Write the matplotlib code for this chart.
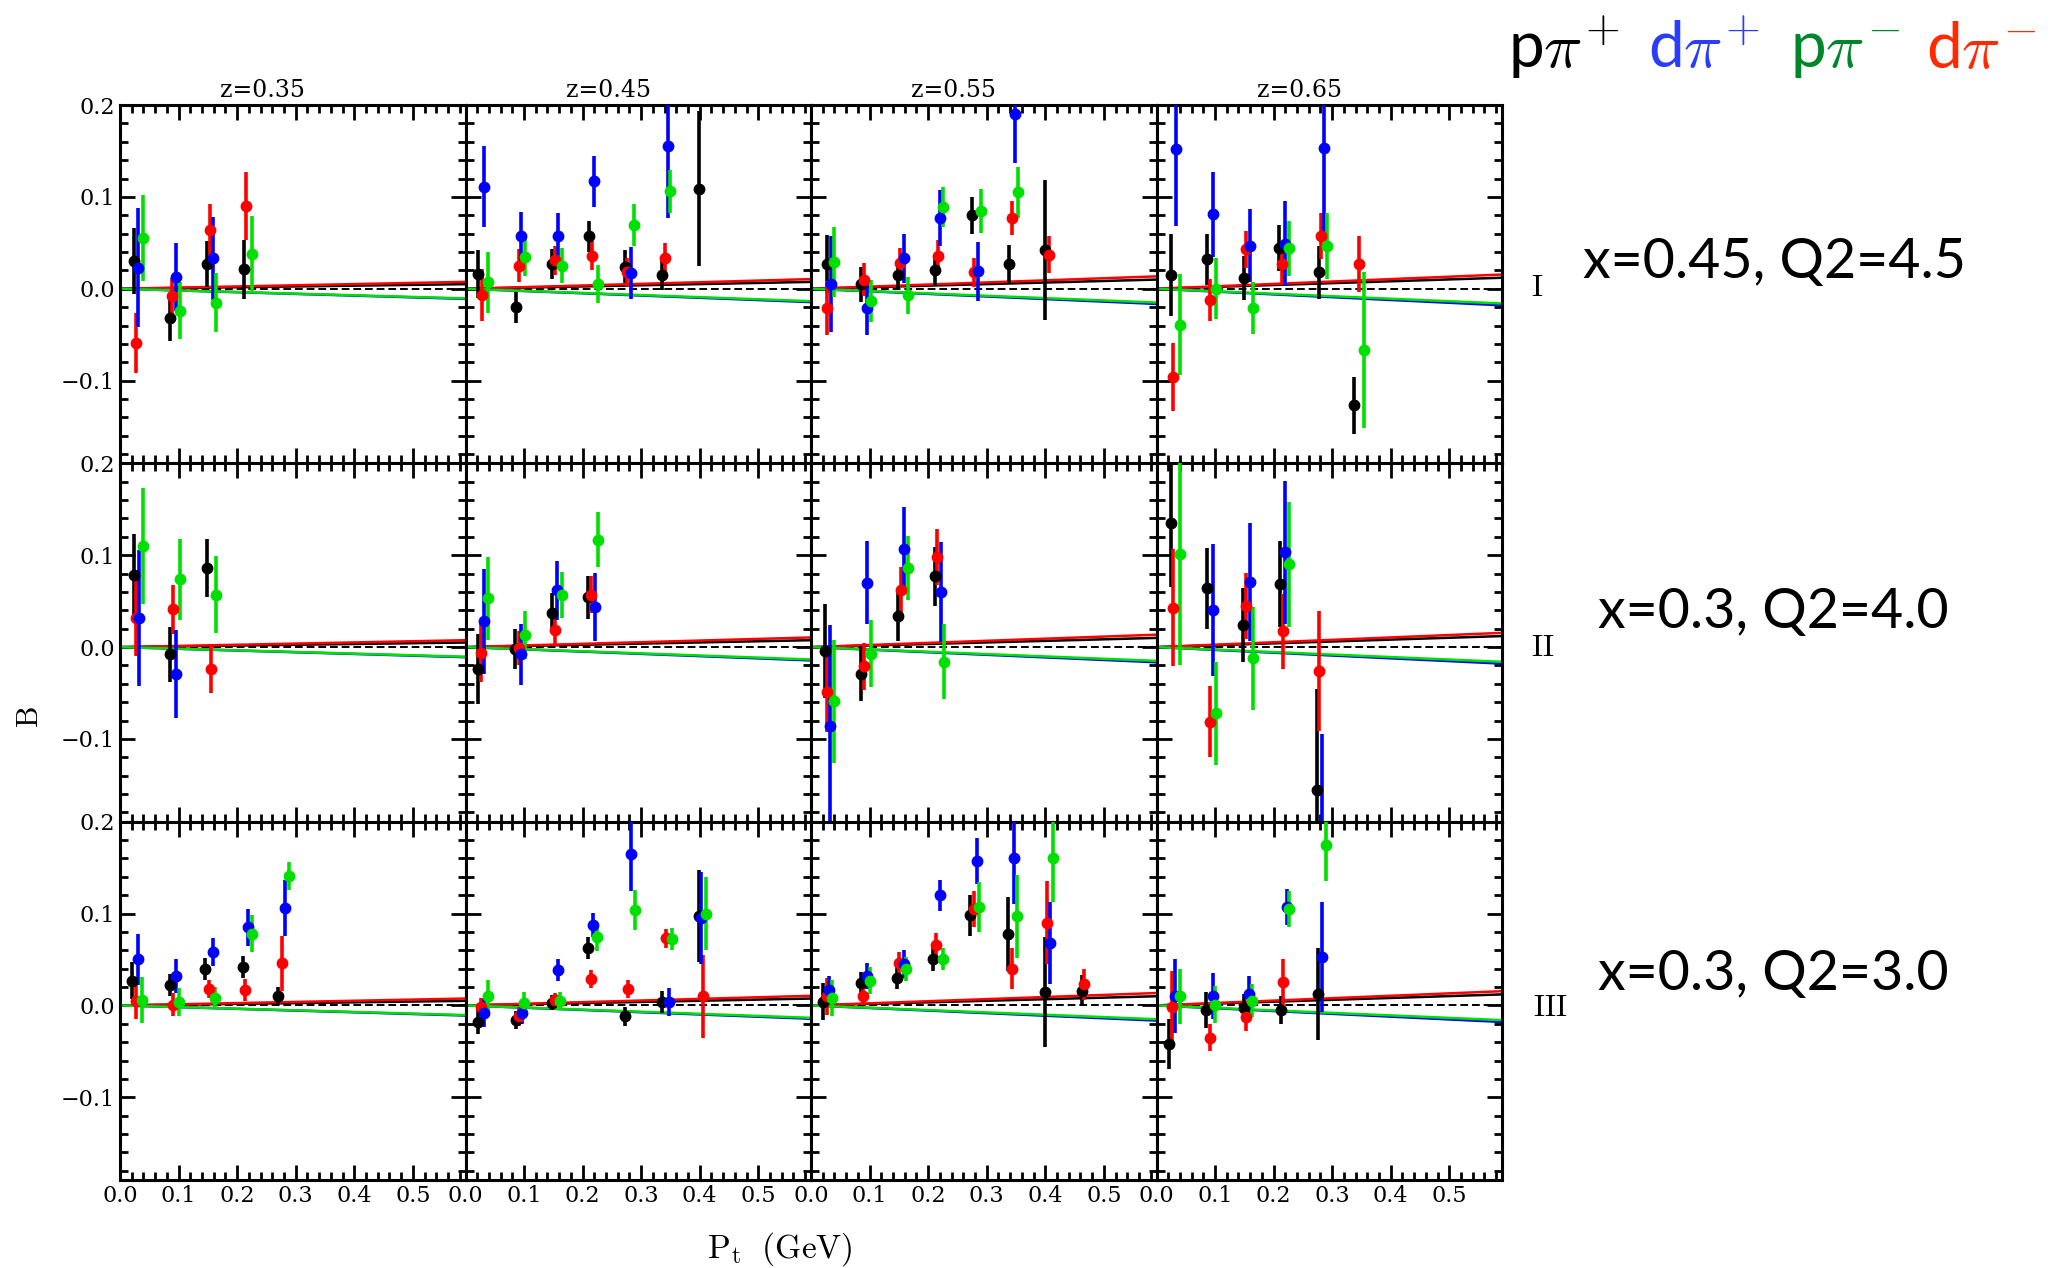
import numpy as np
import matplotlib
matplotlib.use("Agg")
import matplotlib.pyplot as plt
from matplotlib.ticker import MultipleLocator

# channels: k = p pi+, b = d pi+, g = p pi-, r = d pi-
colors = {"k": "#000000", "b": "#0000ff", "g": "#00e000", "r": "#ff0000"}

z_titles = ["z=0.35", "z=0.45", "z=0.55", "z=0.65"]
row_names = ["I", "II", "III"]
row_kin = ["x=0.45, Q2=4.5", "x=0.3, Q2=4.0", "x=0.3, Q2=3.0"]

# ---- row I (x=0.45, Q2=4.5)
p11_pt = [0.024, 0.031, 0.039, 0.028, 0.086, 0.089, 0.095, 0.102, 0.149, 0.153, 0.159, 0.164, 0.211, 0.216, 0.226]
p11_b = [0.030, 0.023, 0.055, -0.059, -0.032, -0.008, 0.013, -0.024, 0.027, 0.064, 0.033, -0.015, 0.021, 0.090, 0.038]
p11_e = [0.036, 0.065, 0.047, 0.033, 0.025, 0.020, 0.037, 0.031, 0.025, 0.028, 0.045, 0.032, 0.032, 0.037, 0.041]
p11_ch = "kbgr" "krbg" "krbg" "krg"

p12_pt = [0.021, 0.028, 0.032, 0.039, 0.087, 0.091, 0.095, 0.102, 0.148, 0.152, 0.158, 0.164, 0.211, 0.216, 0.220, 0.226,
          0.272, 0.276, 0.283, 0.288, 0.336, 0.341, 0.346, 0.350, 0.398]
p12_b = [0.016, -0.007, 0.111, 0.007, -0.020, 0.025, 0.057, 0.035, 0.027, 0.031, 0.057, 0.025, 0.057, 0.036, 0.117, 0.005,
         0.024, 0.018, 0.017, 0.069, 0.015, 0.033, 0.155, 0.106, 0.109]
p12_e = [0.026, 0.028, 0.044, 0.033, 0.017, 0.018, 0.027, 0.021, 0.016, 0.016, 0.025, 0.019, 0.017, 0.016, 0.028, 0.021,
         0.018, 0.015, 0.028, 0.023, 0.016, 0.017, 0.078, 0.023, 0.084]
p12_ch = "krbg" * 6 + "k"

p13_pt = [0.027, 0.028, 0.034, 0.040, 0.085, 0.091, 0.096, 0.102, 0.148, 0.152, 0.159, 0.165, 0.211, 0.217, 0.220, 0.225,
          0.275, 0.278, 0.285, 0.291, 0.338, 0.343, 0.349, 0.354, 0.399, 0.406]
p13_b = [0.027, -0.021, 0.005, 0.029, 0.005, 0.010, -0.021, -0.013, 0.015, 0.028, 0.033, -0.007, 0.020, 0.036, 0.077, 0.089,
         0.080, 0.018, 0.019, 0.085, 0.027, 0.077, 0.190, 0.105, 0.042, 0.037]
p13_e = [0.032, 0.029, 0.052, 0.038, 0.019, 0.018, 0.029, 0.023, 0.014, 0.016, 0.027, 0.020, 0.017, 0.017, 0.030, 0.022,
         0.020, 0.016, 0.032, 0.024, 0.021, 0.018, 0.053, 0.028, 0.076, 0.020]
p13_ch = "krbg" * 6 + "kr"

p14_pt = [0.024, 0.028, 0.034, 0.040, 0.086, 0.092, 0.097, 0.102, 0.149, 0.153, 0.159, 0.165, 0.210, 0.214, 0.220, 0.227,
          0.277, 0.281, 0.286, 0.292, 0.338, 0.345, 0.354]
p14_b = [0.015, -0.096, 0.152, -0.039, 0.032, -0.012, 0.081, 0.000, 0.012, 0.043, 0.047, -0.021, 0.044, 0.027, 0.049, 0.044,
         0.018, 0.057, 0.153, 0.047, -0.127, 0.027, -0.067]
p14_e = [0.045, 0.037, 0.084, 0.055, 0.028, 0.023, 0.046, 0.033, 0.024, 0.020, 0.040, 0.028, 0.025, 0.021, 0.046, 0.030,
         0.029, 0.025, 0.092, 0.036, 0.031, 0.030, 0.085]
p14_ch = "krbg" * 5 + "krg"

# ---- row II (x=0.3, Q2=4.0)
p21_pt = [0.024, 0.027, 0.033, 0.039, 0.086, 0.091, 0.095, 0.102, 0.149, 0.155, 0.164]
p21_b = [0.078, 0.032, 0.032, 0.110, -0.008, 0.041, -0.029, 0.074, 0.086, -0.024, 0.057]
p21_e = [0.045, 0.042, 0.074, 0.063, 0.030, 0.027, 0.048, 0.044, 0.032, 0.026, 0.042]
p21_ch = "krbg" "krbg" "krg"

p22_pt = [0.021, 0.026, 0.031, 0.039, 0.085, 0.091, 0.095, 0.102, 0.148, 0.153, 0.157, 0.164, 0.209, 0.214, 0.221, 0.226]
p22_b = [-0.024, -0.006, 0.028, 0.053, -0.002, -0.001, -0.008, 0.013, 0.037, 0.019, 0.062, 0.057, 0.054, 0.057, 0.044, 0.117]
p22_e = [0.038, 0.032, 0.057, 0.045, 0.022, 0.019, 0.033, 0.026, 0.022, 0.018, 0.032, 0.025, 0.023, 0.020, 0.037, 0.030]
p22_ch = "krbg" * 4

p23_pt = [0.024, 0.028, 0.032, 0.040, 0.085, 0.091, 0.096, 0.103, 0.149, 0.154, 0.158, 0.165, 0.211, 0.215, 0.222, 0.227]
p23_b = [-0.004, -0.049, -0.086, -0.059, -0.029, -0.021, 0.070, -0.007, 0.034, 0.062, 0.107, 0.086, 0.077, 0.098, 0.060, -0.016]
p23_e = [0.051, 0.043, 0.110, 0.067, 0.030, 0.026, 0.045, 0.036, 0.027, 0.025, 0.046, 0.035, 0.032, 0.030, 0.054, 0.041]
p23_ch = "krbg" * 4

p24_pt = [0.024, 0.028, 0.040, 0.086, 0.091, 0.097, 0.102, 0.148, 0.153, 0.159, 0.165, 0.211, 0.216, 0.220, 0.226,
          0.274, 0.278, 0.283]
p24_b = [0.135, 0.043, 0.101, 0.064, -0.081, 0.040, -0.072, 0.024, 0.045, 0.071, -0.012, 0.069, 0.017, 0.103, 0.090,
         -0.156, -0.026, -0.205]
p24_e = [0.070, 0.064, 0.120, 0.044, 0.039, 0.072, 0.056, 0.040, 0.036, 0.064, 0.056, 0.047, 0.041, 0.078, 0.068,
         0.110, 0.065, 0.110]
p24_ch = "krg" + "krbg" * 3 + "krb"

# ---- row III (x=0.3, Q2=3.0)
p31_pt = [0.020, 0.027, 0.031, 0.038, 0.085, 0.091, 0.095, 0.100, 0.145, 0.152, 0.158, 0.162, 0.210, 0.213, 0.218, 0.225,
          0.270, 0.277, 0.281, 0.288]
p31_b = [0.027, 0.005, 0.050, 0.006, 0.022, 0.001, 0.032, 0.004, 0.040, 0.018, 0.058, 0.008, 0.042, 0.017, 0.085, 0.078,
         0.010, 0.046, 0.106, 0.141]
p31_e = [0.020, 0.020, 0.028, 0.025, 0.012, 0.012, 0.018, 0.015, 0.012, 0.010, 0.015, 0.012, 0.012, 0.012, 0.020, 0.020,
         0.010, 0.030, 0.030, 0.015]
p31_ch = "krbg" * 5

p32_pt = [0.022, 0.027, 0.031, 0.038, 0.087, 0.091, 0.096, 0.100, 0.147, 0.152, 0.158, 0.162, 0.209, 0.214, 0.218, 0.225,
          0.272, 0.278, 0.283, 0.290, 0.336, 0.343, 0.347, 0.352, 0.399, 0.402, 0.405, 0.410]
p32_b = [-0.018, -0.002, -0.008, 0.010, -0.016, -0.012, -0.008, 0.003, 0.003, 0.006, 0.039, 0.005, 0.063, 0.029, 0.088, 0.074,
         -0.012, 0.018, 0.165, 0.104, 0.004, 0.073, 0.004, 0.072, 0.097, 0.095, 0.010, 0.100]
p32_e = [0.013, 0.010, 0.015, 0.018, 0.010, 0.010, 0.012, 0.012, 0.008, 0.008, 0.012, 0.010, 0.012, 0.010, 0.013, 0.015,
         0.010, 0.010, 0.040, 0.022, 0.012, 0.010, 0.015, 0.012, 0.050, 0.050, 0.045, 0.040]
p32_ch = "krbg" * 6 + "kbrg"

p33_pt = [0.020, 0.027, 0.031, 0.036, 0.085, 0.089, 0.096, 0.100, 0.147, 0.151, 0.158, 0.163, 0.209, 0.214, 0.220, 0.225,
          0.272, 0.278, 0.283, 0.287, 0.336, 0.343, 0.347, 0.352, 0.400, 0.403, 0.408, 0.414, 0.463, 0.467]
p33_b = [0.004, 0.010, 0.017, 0.008, 0.024, 0.010, 0.032, 0.027, 0.030, 0.046, 0.045, 0.040, 0.050, 0.066, 0.120, 0.051,
         0.098, 0.105, 0.157, 0.107, 0.078, 0.040, 0.160, 0.097, 0.015, 0.090, 0.068, 0.161, 0.016, 0.023]
p33_e = [0.020, 0.020, 0.015, 0.020, 0.012, 0.010, 0.014, 0.015, 0.012, 0.012, 0.015, 0.013, 0.012, 0.013, 0.017, 0.012,
         0.022, 0.020, 0.025, 0.027, 0.040, 0.022, 0.050, 0.045, 0.060, 0.045, 0.045, 0.048, 0.017, 0.017]
p33_ch = "krbg" * 7 + "kr"

p34_pt = [0.022, 0.027, 0.031, 0.040, 0.085, 0.091, 0.096, 0.100, 0.149, 0.153, 0.158, 0.163, 0.212, 0.216, 0.223, 0.227,
          0.276, 0.283, 0.290]
p34_b = [-0.042, -0.002, 0.010, 0.010, -0.005, -0.035, 0.010, 0.001, -0.003, -0.013, 0.012, 0.005, -0.005, 0.026, 0.107, 0.105,
         0.012, 0.053, 0.175]
p34_e = [0.027, 0.040, 0.040, 0.030, 0.020, 0.015, 0.025, 0.020, 0.015, 0.015, 0.020, 0.018, 0.015, 0.025, 0.020, 0.020,
         0.050, 0.060, 0.040]
p34_ch = "krbg" * 4 + "kbg"

panels = [
    [(p11_pt, p11_b, p11_e, p11_ch), (p12_pt, p12_b, p12_e, p12_ch), (p13_pt, p13_b, p13_e, p13_ch), (p14_pt, p14_b, p14_e, p14_ch)],
    [(p21_pt, p21_b, p21_e, p21_ch), (p22_pt, p22_b, p22_e, p22_ch), (p23_pt, p23_b, p23_e, p23_ch), (p24_pt, p24_b, p24_e, p24_ch)],
    [(p31_pt, p31_b, p31_e, p31_ch), (p32_pt, p32_b, p32_e, p32_ch), (p33_pt, p33_b, p33_e, p33_ch), (p34_pt, p34_b, p34_e, p34_ch)],
]

# model curves: value of B at the right edge (Pt=0.59) for each z bin
model_pt = [0.0, 0.59]
model_end = {
    "k": [0.005, 0.0075, 0.010, 0.012],
    "r": [0.0075, 0.0105, 0.0135, 0.0155],
    "b": [-0.011, -0.0145, -0.0165, -0.018],
    "g": [-0.0105, -0.0135, -0.015, -0.016],
}

plt.rcParams['mathtext.fontset'] = 'cm'
serif = "DejaVu Serif"

W, H = 2051, 1268
fig = plt.figure(figsize=(W / 100, H / 100), dpi=100)
axes = fig.subplots(3, 4)
fig.subplots_adjust(left=120 / W, right=1502 / W, top=1 - 105 / H, bottom=1 - 1180 / H, wspace=0, hspace=0)

for r in range(3):
    for c in range(4):
        ax = axes[r, c]
        pt, b, e, ch = panels[r][c]
        ax.axhline(0, color="k", ls="--", lw=1.4, dashes=(4, 2), zorder=1)
        for key in ["k", "r", "b", "g"]:
            ax.plot(model_pt, [0.0, model_end[key][c]], color=colors[key], lw=1.8, zorder=2)
        for key in ["k", "r", "b", "g"]:
            idx = [i for i, s in enumerate(ch) if s == key]
            if not idx:
                continue
            ax.errorbar(np.array(pt)[idx], np.array(b)[idx], yerr=np.array(e)[idx], fmt="o",
                        color=colors[key], ms=7.5, elinewidth=2.6, capsize=0, zorder=3)
        ax.set_xlim(0, 0.59)
        ax.set_ylim(-0.19, 0.2)
        ax.xaxis.set_major_locator(MultipleLocator(0.1))
        ax.xaxis.set_minor_locator(MultipleLocator(0.02))
        ax.set_yticks([-0.1, 0.0, 0.1, 0.2])
        ax.yaxis.set_minor_locator(MultipleLocator(0.02))
        ax.tick_params(which="both", direction="in", top=True, right=True, width=2)
        ax.tick_params(which="major", length=11)
        ax.tick_params(which="minor", length=6)
        for sp in ax.spines.values():
            sp.set_linewidth(2.2)
        if c == 0:
            ax.set_yticklabels(["\u22120.1", "0.0", "0.1", "0.2"], fontsize=16, family=serif)
        else:
            ax.set_yticklabels([])
        if r == 2:
            ax.set_xticks([0, 0.1, 0.2, 0.3, 0.4, 0.5])
            ax.set_xticklabels(["0.0", "0.1", "0.2", "0.3", "0.4", "0.5"], fontsize=16, family=serif)
        else:
            ax.set_xticklabels([])
        if r == 0:
            ax.text(0.413, 1.008, z_titles[c], transform=ax.transAxes, ha="center", va="bottom",
                    fontsize=17, family=serif)

fig.text(29 / W, 1 - 717 / H, r"$\mathrm{B}$", rotation=90, ha="center", va="center", fontsize=22)
fig.text(780 / W, 1 - 1249 / H, r"$\mathrm{P_t\ \ (GeV)}$", ha="center", va="center", fontsize=24)

roman_xy = [(1537, 287), (1543, 648), (1550, 1007)]
kin_xy = [(1583, 262), (1598, 612), (1598, 974)]
for i in range(3):
    fig.text(roman_xy[i][0] / W, 1 - roman_xy[i][1] / H, r"$\mathrm{" + row_names[i] + "}$",
             ha="center", va="center", fontsize=22)
    fig.text(kin_xy[i][0] / W, 1 - kin_xy[i][1] / H, row_kin[i], ha="left", va="center",
             fontsize=40, family="Lato")

legend_txt = [r"p$\pi^{\!+}$", r"d$\pi^{\!+}$", r"p$\pi^{\!-}$", r"d$\pi^{\!-}$"]
legend_col = ["#000000", "#2a3cff", "#00862a", "#ff2a00"]
legend_x = [1508, 1648, 1790, 1926]
for t, col, x in zip(legend_txt, legend_col, legend_x):
    fig.text(x / W, 1 - 68 / H, t, ha="left", va="baseline", fontsize=46, family="Lato", color=col)

fig.savefig("out.png", dpi=100)
